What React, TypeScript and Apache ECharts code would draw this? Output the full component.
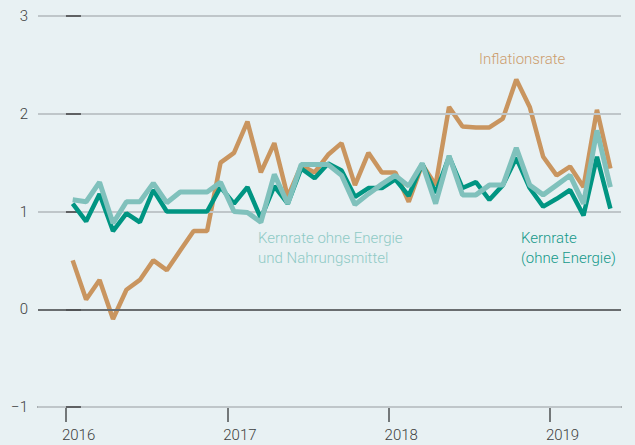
import React, { useEffect, useRef } from "react";
import * as echarts from "echarts";

// Monthly values, Jan 2016 .. May 2019 (41 months), % yoy
const inflation = [
  0.5, 0.1, 0.3, -0.1, 0.2, 0.3, 0.5, 0.4, 0.6, 0.8, 0.8, 1.5,
  1.6, 1.92, 1.4, 1.7, 1.15, 1.47, 1.4, 1.58, 1.7, 1.27, 1.6, 1.4,
  1.4, 1.1, 1.48, 1.27, 2.07, 1.87, 1.86, 1.86, 1.95, 2.35, 2.07, 1.56,
  1.37, 1.46, 1.25, 2.04, 1.44,
];
const coreExEnergy = [
  1.08, 0.9, 1.18, 0.8, 0.98, 0.89, 1.22, 1.0, 1.0, 1.0, 1.0, 1.25,
  1.08, 1.25, 0.93, 1.26, 1.08, 1.44, 1.34, 1.49, 1.42, 1.15, 1.24, 1.24,
  1.33, 1.16, 1.49, 1.19, 1.56, 1.24, 1.3, 1.12, 1.27, 1.55, 1.24, 1.05,
  1.13, 1.22, 0.96, 1.56, 1.03,
];
const coreExEnergyFood = [
  1.12, 1.1, 1.3, 0.88, 1.1, 1.1, 1.29, 1.09, 1.2, 1.2, 1.2, 1.3,
  1.0, 0.99, 0.89, 1.38, 1.08, 1.48, 1.48, 1.48, 1.37, 1.07, 1.18, 1.28,
  1.37, 1.26, 1.49, 1.08, 1.57, 1.17, 1.17, 1.27, 1.27, 1.65, 1.27, 1.17,
  1.27, 1.37, 1.08, 1.83, 1.25,
];
const yearTicks = [0, 12, 24, 36];
const yearLabels = ["2016", "2017", "2018", "2019"];
const zeroLine = 0;

const ORANGE = "#c9955f";
const DARK_TEAL = "#009582";
const LIGHT_TEAL = "#80c1bc";
const AXIS_DARK = "#4d4f50";
const TICK_GREY = "#5f6163";
const GRID_LIGHT = "#bfc6c9";
const FONT = "Roboto";

const toPairs = (arr: number[]) => arr.map((v, i) => [i + 0.5, v]);

export default function App() {
  const ref = useRef<HTMLDivElement>(null);
  useEffect(() => {
    if (!ref.current) return;
    const chart = echarts.init(ref.current, null, { renderer: "svg" });
    chart.setOption({
      animation: false,
      backgroundColor: "#e8f1f3",
      grid: {
        left: 38,
        right: 14,
        top: 16,
        bottom: 38,
        containLabel: false,
        outerBoundsMode: "none",
      },
      xAxis: {
        type: "value",
        min: -2.08,
        max: 41.29,
        axisLine: {
          show: true,
          onZero: false,
          lineStyle: { color: AXIS_DARK, width: 1.5 },
        },
        axisTick: {
          show: true,
          customValues: yearTicks,
          length: 15,
          lineStyle: { color: AXIS_DARK, width: 1.5 },
        },
        axisLabel: {
          show: true,
          customValues: yearTicks,
          formatter: (v: number) => yearLabels[yearTicks.indexOf(v)] ?? "",
          align: "left",
          padding: [0, 0, 0, -4],
          margin: 20,
          color: "#3d3f40",
          fontSize: 15,
          fontWeight: 300,
          fontFamily: FONT,
        },
        splitLine: { show: false },
      },
      yAxis: {
        type: "value",
        min: -1,
        max: 3,
        interval: 1,
        z: 3,
        axisLine: { show: false },
        axisTick: {
          show: true,
          inside: true,
          length: 15,
          lineStyle: { color: TICK_GREY, width: 2 },
        },
        axisLabel: {
          margin: 10,
          color: "#3d3f40",
          fontSize: 15,
          fontWeight: 300,
          fontFamily: FONT,
          formatter: (v: number) => (v < 0 ? "\u2212" + Math.abs(v) : String(v)),
        },
        splitLine: {
          show: true,
          lineStyle: { color: GRID_LIGHT, width: 2, type: "solid" },
        },
      },
      series: [
        {
          name: "zero",
          type: "line",
          data: [],
          symbol: "none",
          z: 1,
          silent: true,
          markLine: {
            silent: true,
            symbol: ["none", "none"],
            label: { show: false },
            lineStyle: { color: AXIS_DARK, width: 1.5, type: "solid" },
            data: [{ yAxis: zeroLine }],
          },
        },
        {
          name: "Inflationsrate",
          type: "line",
          data: toPairs(inflation),
          symbol: "none",
          lineStyle: { color: ORANGE, width: 4.5 },
          z: 2,
        },
        {
          name: "Kernrate (ohne Energie)",
          type: "line",
          data: toPairs(coreExEnergy),
          symbol: "none",
          lineStyle: { color: DARK_TEAL, width: 4.5 },
          z: 3,
        },
        {
          name: "Kernrate ohne Energie und Nahrungsmittel",
          type: "line",
          data: toPairs(coreExEnergyFood),
          symbol: "none",
          lineStyle: { color: LIGHT_TEAL, width: 5 },
          z: 4,
        },
      ],
      graphic: [
        {
          type: "text",
          x: 479,
          y: 59,
          style: {
            text: "Inflationsrate",
            fill: "#cc9d6e",
            font: `300 15px ${FONT}`,
            verticalAlign: "middle",
            align: "left",
          },
        },
        {
          type: "text",
          x: 258,
          y: 238,
          style: {
            text: "Kernrate ohne Energie",
            fill: "#8ecac5",
            font: `300 15px ${FONT}`,
            verticalAlign: "middle",
            align: "left",
          },
        },
        {
          type: "text",
          x: 258,
          y: 258,
          style: {
            text: "und Nahrungsmittel",
            fill: "#8ecac5",
            font: `300 15px ${FONT}`,
            verticalAlign: "middle",
            align: "left",
          },
        },
        {
          type: "text",
          x: 521,
          y: 238,
          style: {
            text: "Kernrate",
            fill: "#14998a",
            font: `300 15px ${FONT}`,
            verticalAlign: "middle",
            align: "left",
          },
        },
        {
          type: "text",
          x: 521,
          y: 258,
          style: {
            text: "(ohne Energie)",
            fill: "#14998a",
            font: `300 15px ${FONT}`,
            verticalAlign: "middle",
            align: "left",
          },
        },
      ],
    });
    return () => chart.dispose();
  }, []);
  return (
    <div
      ref={ref}
      style={{ position: "fixed", left: 0, top: 0, width: 635, height: 445 }}
    />
  );
}
